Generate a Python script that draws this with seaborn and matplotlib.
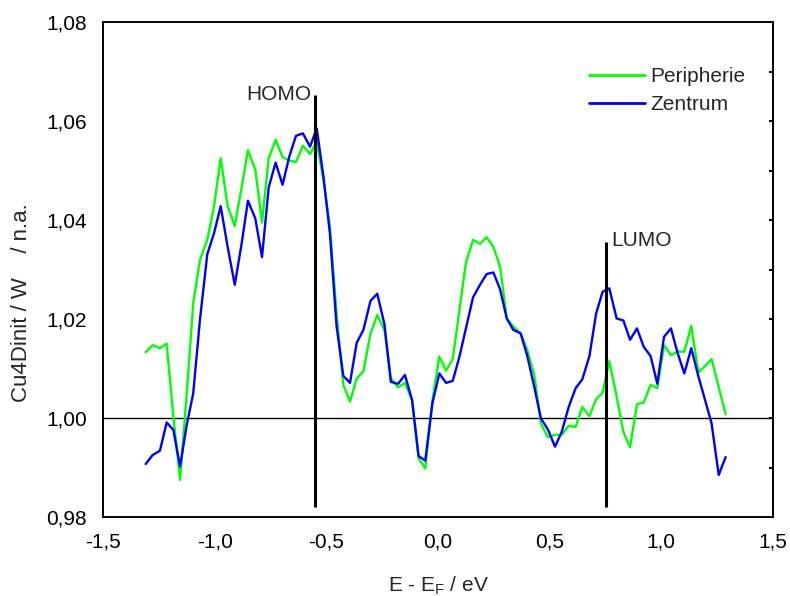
import numpy as np
import pandas as pd
import matplotlib
matplotlib.use("Agg")
import matplotlib.pyplot as plt
from matplotlib.ticker import MultipleLocator, FixedLocator, FuncFormatter
import seaborn as sns

# ---- data ----
energy = [-1.309, -1.278, -1.245, -1.215, -1.185, -1.155, -1.125, -1.096, -1.066, -1.033,
          -1.003, -0.973, -0.942, -0.910, -0.879, -0.851, -0.818, -0.788, -0.758, -0.727,
          -0.696, -0.666, -0.636, -0.605, -0.573, -0.543,
          -0.513, -0.484, -0.454, -0.424, -0.394, -0.364, -0.334, -0.302, -0.272, -0.240,
          -0.211, -0.179, -0.148, -0.116, -0.087, -0.057, -0.025, 0.006, 0.036, 0.066,
          0.096, 0.125, 0.157, 0.188, 0.218, 0.248, 0.278,
          0.308, 0.337, 0.370, 0.400, 0.431, 0.461, 0.493, 0.524, 0.554, 0.585,
          0.616, 0.646, 0.678, 0.708, 0.737, 0.767, 0.800, 0.830, 0.860, 0.891,
          0.921, 0.952, 0.982, 1.012, 1.043, 1.073, 1.103, 1.134, 1.166, 1.196,
          1.225, 1.257, 1.288]

peripherie = [1.0133, 1.0147, 1.0141, 1.0150, 1.0003, 0.9875, 1.0050, 1.0232, 1.0319, 1.0360,
              1.0427, 1.0525, 1.0428, 1.0388, 1.0467, 1.0541, 1.0502, 1.0395, 1.0525, 1.0562,
              1.0527, 1.0520, 1.0517, 1.0550, 1.0533, 1.0558,
              1.0481, 1.0387, 1.0211, 1.0067, 1.0033, 1.0080, 1.0094, 1.0171, 1.0208, 1.0178,
              1.0080, 1.0062, 1.0071, 1.0036, 0.9919, 0.9898, 1.0036, 1.0124, 1.0096, 1.0119,
              1.0218, 1.0314, 1.0360, 1.0352, 1.0365, 1.0346, 1.0306,
              1.0201, 1.0185, 1.0171, 1.0137, 1.0087, 0.9988, 0.9961, 0.9966, 0.9966, 0.9984,
              0.9982, 1.0022, 1.0004, 1.0038, 1.0051, 1.0115, 1.0043, 0.9972, 0.9941, 1.0028,
              1.0031, 1.0067, 1.0060, 1.0147, 1.0127, 1.0134, 1.0134, 1.0186, 1.0092, 1.0105,
              1.0119, 1.0062, 1.0008]

zentrum = [0.9907, 0.9925, 0.9934, 0.9991, 0.9976, 0.9902, 0.9986, 1.0050, 1.0198, 1.0331,
           1.0373, 1.0428, 1.0346, 1.0269, 1.0353, 1.0439, 1.0403, 1.0325, 1.0466, 1.0516,
           1.0471, 1.0528, 1.0570, 1.0575, 1.0548, 1.0585,
           1.0488, 1.0373, 1.0185, 1.0085, 1.0071, 1.0152, 1.0178, 1.0237, 1.0251, 1.0190,
           1.0073, 1.0069, 1.0087, 1.0036, 0.9923, 0.9914, 1.0030, 1.0090, 1.0071, 1.0075,
           1.0124, 1.0181, 1.0244, 1.0269, 1.0291, 1.0294, 1.0260,
           1.0201, 1.0178, 1.0171, 1.0125, 1.0063, 0.9999, 0.9976, 0.9942, 0.9972, 1.0022,
           1.0060, 1.0078, 1.0125, 1.0211, 1.0255, 1.0262, 1.0201, 1.0197, 1.0158, 1.0181,
           1.0144, 1.0125, 1.0069, 1.0164, 1.0181, 1.0131, 1.0090, 1.0141, 1.0084, 1.0036,
           0.9989, 0.9885, 0.9921]

series_names = ["Peripherie", "Zentrum"]
series_colors = ["#00FF00", "#0000FF"]

homo_x, homo_y = -0.551, (0.982, 1.0653)
lumo_x, lumo_y = 0.752, (0.982, 1.0356)

x_ticks = [-1.5, -1.0, -0.5, 0.0, 0.5, 1.0, 1.5]
y_ticks = [0.98, 1.00, 1.02, 1.04, 1.06, 1.08]

# ---- frame ----
df = pd.DataFrame({
    "E": energy * 2,
    "val": peripherie + zentrum,
    "series": [series_names[0]] * len(energy) + [series_names[1]] * len(energy),
})

sns.set_style("white")
plt.rcParams["font.family"] = ["Liberation Sans", "DejaVu Sans"]
plt.rcParams["mathtext.default"] = "regular"
plt.rcParams["mathtext.fontset"] = "custom"
plt.rcParams["mathtext.rm"] = "Liberation Sans"
plt.rcParams["mathtext.it"] = "Liberation Sans"

FS = 15

fig = plt.figure(figsize=(7.9, 5.96), dpi=100)
ax = fig.add_axes([103 / 790, 79 / 596, 670 / 790, 495 / 596])

sns.lineplot(data=df, x="E", y="val", hue="series", hue_order=series_names,
             palette=dict(zip(series_names, series_colors)), sort=False,
             estimator=None, linewidth=1.7, ax=ax, legend=False)

ax.axhline(1.0, color="black", linewidth=1.0, zorder=1)
ax.vlines([homo_x], homo_y[0], homo_y[1], color="black", linewidth=2.2, zorder=3)
ax.vlines([lumo_x], lumo_y[0], lumo_y[1], color="black", linewidth=2.2, zorder=3)
ax.text(-0.569, 1.0642, "HOMO", ha="right", va="baseline", fontsize=FS)
ax.text(0.775, 1.0347, "LUMO", ha="left", va="baseline", fontsize=FS)

ax.set_xlim(-1.5, 1.5)
ax.set_ylim(0.98, 1.08)
ax.xaxis.set_major_locator(FixedLocator(x_ticks))
ax.yaxis.set_major_locator(FixedLocator(y_ticks))
ax.xaxis.set_minor_locator(MultipleLocator(0.25))
ax.yaxis.set_minor_locator(MultipleLocator(0.01))
ax.xaxis.set_major_formatter(FuncFormatter(lambda v, p: f"{v:.1f}".replace(".", ",")))
ax.yaxis.set_major_formatter(FuncFormatter(lambda v, p: f"{v:.2f}".replace(".", ",")))

for s in ax.spines.values():
    s.set_linewidth(1.4)
    s.set_color("black")

ax.tick_params(axis="both", which="major", direction="out", length=7.2, width=1.4,
               labelsize=FS, colors="black")
ax.tick_params(axis="x", which="major", pad=4)
ax.tick_params(axis="y", which="major", pad=4.5)
ax.tick_params(axis="both", which="minor", direction="out", length=3.6, width=1.4, colors="black")
ax.tick_params(axis="y", which="both", right=True, labelright=False)
ax.tick_params(axis="x", which="both", top=False)
# right ticks point inward
for t in ax.yaxis.get_major_ticks() + ax.yaxis.get_minor_ticks():
    t.tick2line.set_marker(matplotlib.lines.TICKLEFT)
    t.tick2line.set_markersize(3)

ax.set_xlabel("E - E$_F$ / eV", fontsize=FS)
ax.set_ylabel("Cu4Dinit / W    / n.a.", fontsize=16)
ax.xaxis.set_label_coords(0.5, -0.116)
ax.yaxis.set_label_coords(-0.106, 0.433)

handles = [matplotlib.lines.Line2D([], [], color=c, linewidth=2) for c in series_colors]
ax.legend(handles, series_names, loc="upper left", bbox_to_anchor=(0.7254, 0.909),
          frameon=False, fontsize=FS, handlelength=2.7, handletextpad=0.25,
          labelspacing=0.45, borderpad=0, borderaxespad=0)

fig.savefig("out.png", dpi=100)
